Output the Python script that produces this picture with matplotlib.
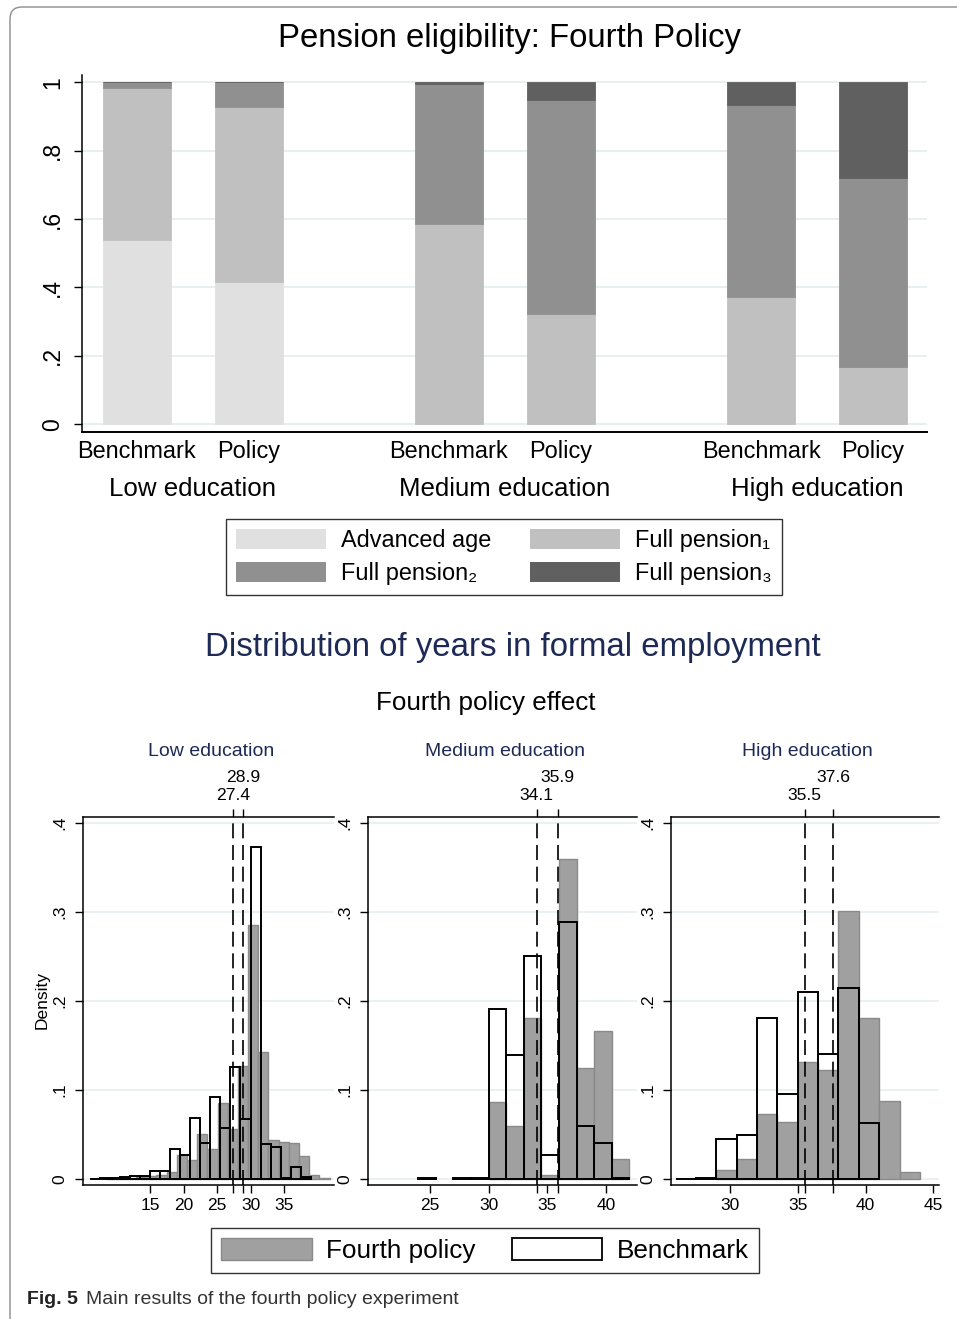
import numpy as np
import matplotlib
matplotlib.use("Agg")
import matplotlib.pyplot as plt
from matplotlib.patches import Patch, FancyBboxPatch
from matplotlib.transforms import blended_transform_factory

plt.rcParams['font.family'] = ['Liberation Sans', 'DejaVu Sans']

W, H = 957, 1319

# ---------------- pension eligibility shares ----------------
groups = ["Low education", "Medium education", "High education"]
scenarios = ["Benchmark", "Policy"]
status_labels = ["Advanced age", "Full pension₁", "Full pension₂", "Full pension₃"]
status_colors = ["#e0e0e0", "#c0c0c0", "#909090", "#606060"]
# order: low bench, low policy, medium bench, medium policy, high bench, high policy
advanced_age = [0.538, 0.416, 0.0, 0.0, 0.0, 0.0]
full_pension1 = [0.444, 0.510, 0.585, 0.323, 0.371, 0.167]
full_pension2 = [0.018, 0.074, 0.410, 0.625, 0.563, 0.553]
full_pension3 = [0.0, 0.0, 0.005, 0.052, 0.066, 0.280]

# ---------------- years in formal employment ----------------
panel_titles = ["Low education", "Medium education", "High education"]

low_bench_edges = [6, 7.5, 9, 10.5, 12, 13.5, 15, 16.5, 18, 19.5, 21, 22.5, 24,
                   25.5, 27, 28.5, 30, 31.5, 33, 34.5, 36, 37.5, 39]
low_bench_density = [0.0005, 0.0008, 0.001, 0.002, 0.003, 0.003, 0.009, 0.009,
                     0.034, 0.027, 0.069, 0.040, 0.092, 0.057, 0.126, 0.068,
                     0.373, 0.039, 0.036, 0.001, 0.014, 0.002]
low_policy_edges = [8.36, 9.88, 11.4, 12.92, 14.44, 15.96, 17.48, 19.0, 20.52,
                    22.04, 23.56, 25.08, 26.6, 28.12, 29.64, 31.16, 32.68, 34.2,
                    35.72, 37.24, 38.76, 40.28, 41.8]
low_policy_density = [0.0005, 0.001, 0.001, 0.002, 0.003, 0.005, 0.008, 0.027,
                      0.021, 0.051, 0.034, 0.086, 0.056, 0.127, 0.286, 0.143,
                      0.044, 0.042, 0.041, 0.026, 0.004, 0.0015]

med_edges = [24, 25.5, 27, 28.5, 30, 31.5, 33, 34.5, 36, 37.5, 39, 40.5, 42]
med_bench_density = [0.001, 0.0, 0.001, 0.001, 0.191, 0.139, 0.251, 0.027,
                     0.289, 0.060, 0.041, 0.001]
med_policy_density = [0.0, 0.0, 0.0, 0.0, 0.087, 0.060, 0.181, 0.004, 0.360,
                      0.125, 0.166, 0.022]

high_edges = [26, 27.5, 29, 30.5, 32, 33.5, 35, 36.5, 38, 39.5, 41, 42.5, 44]
high_bench_density = [0.0005, 0.0008, 0.045, 0.049, 0.181, 0.096, 0.210, 0.141,
                      0.215, 0.063, 0.0, 0.0]
high_policy_density = [0.0, 0.0, 0.010, 0.022, 0.073, 0.064, 0.132, 0.123,
                       0.301, 0.181, 0.088, 0.008]

bench_means = [27.4, 34.1, 35.5]
policy_means = [28.9, 35.9, 37.6]

hist_xticks = [[15, 20, 25, 30, 35], [25, 30, 35, 40], [30, 35, 40, 45]]
hist_xlims = [(5.0, 42.46), (19.71, 42.65), (25.63, 45.41)]
density_ticks = [0, 0.1, 0.2, 0.3, 0.4]
density_ticklabels = ["0", ".1", ".2", ".3", ".4"]
share_ticks = [0, 0.2, 0.4, 0.6, 0.8, 1.0]
share_ticklabels = ["0", ".2", ".4", ".6", ".8", "1"]

NAVY = "#1d2a55"
GRID = "#e6eef0"
POLICY_FILL = "#a0a0a0"
POLICY_EDGE = "#8a8a8a"


def rect(x0, y0, x1, y1):
    """Axes rectangle from pixel box (origin at top-left)."""
    return [x0 / W, 1 - y1 / H, (x1 - x0) / W, (y1 - y0) / H]


def ftxt(x, y, s, **kw):
    fig.text(x / W, 1 - y / H, s, ha=kw.pop("ha", "center"),
             va=kw.pop("va", "center"), **kw)


fig = plt.figure(figsize=(W / 100, H / 100), dpi=100)

# outer frame with rounded corner
frame = FancyBboxPatch((0.10, -0.3), 11.0, 13.12 + 0.3,
                       boxstyle="round,pad=0,rounding_size=0.12",
                       transform=fig.dpi_scale_trans, fill=False,
                       edgecolor="#8c8c8c", linewidth=1.0)
fig.patches.append(frame)

# ---------------- stacked bars ----------------
ax = fig.add_axes(rect(82, 75, 926.7, 432))
half = 0.179
bar_w = 0.218
xpos = []
for g in range(len(groups)):
    xpos += [g - half, g + half]
xpos = np.array(xpos)

bottom = np.zeros(len(xpos))
for vals, col, lab in zip([advanced_age, full_pension1, full_pension2, full_pension3],
                          status_colors, status_labels):
    vals = np.array(vals)
    ax.bar(xpos, vals, bar_w, bottom=bottom, color=col, edgecolor=col,
           linewidth=0.6, label=lab, zorder=3)
    bottom += vals

ax.set_xlim(-0.355, 2.352)
ax.set_ylim(-0.023, 1.021)
ax.set_yticks(share_ticks)
ax.set_yticklabels(share_ticklabels, fontsize=16.5, rotation=90, va="center")
ax.yaxis.grid(True, color=GRID, linewidth=1.3, zorder=0)
ax.set_axisbelow(True)
ax.tick_params(axis="y", length=6, width=1.0, pad=7)
ax.set_xticks(xpos)
ax.set_xticklabels(scenarios * len(groups), fontsize=16.9)
ax.tick_params(axis="x", length=0, pad=6)
for s in ["top", "right"]:
    ax.spines[s].set_visible(False)
ax.spines["left"].set_linewidth(1.1)
ax.spines["bottom"].set_linewidth(1.4)

tr = blended_transform_factory(ax.transData, fig.transFigure)
for g, name in enumerate(groups):
    ax.text(g, 1 - 489 / H, name, transform=tr, ha="center", va="center",
            fontsize=18.6)

ftxt(509, 39, "Pension eligibility: Fourth Policy", fontsize=23.7)

handles = [Patch(facecolor=c, edgecolor="none") for c in status_colors]
order = [0, 2, 1, 3]
leg = fig.legend([handles[i] for i in order], [status_labels[i] for i in order],
                 ncol=2, loc="center", bbox_to_anchor=(504 / W, 1 - 557 / H),
                 frameon=True, fancybox=False, edgecolor="black",
                 fontsize=16.9, handlelength=3.83, handleheight=0.95,
                 handletextpad=0.64, columnspacing=1.66, labelspacing=0.42,
                 borderpad=0.42)
leg.get_frame().set_linewidth(1.0)

# ---------------- histograms ----------------
ftxt(513, 647, "Distribution of years in formal employment", fontsize=23.8,
     color=NAVY)
ftxt(486, 703, "Fourth policy effect", fontsize=18.7)

panel_px = [(83, 334), (368, 637), (670.7, 939)]
title_x = [211, 505, 807]
bench_sets = [(low_bench_edges, low_bench_density),
              (med_edges, med_bench_density),
              (high_edges, high_bench_density)]
policy_sets = [(low_policy_edges, low_policy_density),
               (med_edges, med_policy_density),
               (high_edges, high_policy_density)]

for i in range(3):
    x0, x1 = panel_px[i]
    hx = fig.add_axes(rect(x0, 817, x1, 1185))

    pe, pd = np.array(policy_sets[i][0]), np.array(policy_sets[i][1])
    keep = pd > 0
    hx.bar(pe[:-1][keep], pd[keep], width=np.diff(pe)[keep], align="edge",
           facecolor=POLICY_FILL, edgecolor=POLICY_EDGE, linewidth=1.0, zorder=2)

    be, bd = np.array(bench_sets[i][0]), np.array(bench_sets[i][1])
    keep = bd > 0
    hx.bar(be[:-1][keep], bd[keep], width=np.diff(be)[keep], align="edge",
           fill=False, edgecolor="black", linewidth=1.4, zorder=3)

    for m in (bench_means[i], policy_means[i]):
        hx.axvline(m, color="black", linewidth=1.2, linestyle=(0, (9, 4)),
                   zorder=4)

    hx.set_xlim(*hist_xlims[i])
    hx.set_ylim(-0.0067, 0.407)
    hx.set_yticks(density_ticks)
    hx.set_yticklabels(density_ticklabels, fontsize=12.5, rotation=90,
                       va="center")
    hx.yaxis.grid(True, color=GRID, linewidth=1.1, zorder=0)
    hx.set_axisbelow(True)
    hx.set_xticks(hist_xticks[i])
    hx.set_xticklabels([str(t) for t in hist_xticks[i]], fontsize=12.5)
    hx.set_xticks([bench_means[i], policy_means[i]], minor=True)
    hx.tick_params(axis="x", which="major", length=6, width=1.0, pad=3)
    hx.tick_params(axis="x", which="minor", length=6, width=1.0, top=True,
                   bottom=True)
    hx.tick_params(axis="y", length=6, width=1.0, pad=5)
    hx.spines["right"].set_visible(False)
    for s in ["left", "bottom", "top"]:
        hx.spines[s].set_linewidth(1.1)

    trh = blended_transform_factory(hx.transData, fig.transFigure)
    hx.text(bench_means[i], 1 - 795 / H, f"{bench_means[i]:.1f}",
            transform=trh, ha="center", va="center", fontsize=12.6)
    hx.text(policy_means[i], 1 - 777 / H, f"{policy_means[i]:.1f}",
            transform=trh, ha="center", va="center", fontsize=12.6)

    ftxt(title_x[i], 751, panel_titles[i], fontsize=14, color=NAVY)

ftxt(42, 1000, "Density", fontsize=12.5, rotation=90)

leg2 = fig.legend([Patch(facecolor=POLICY_FILL, edgecolor=POLICY_EDGE),
                   Patch(facecolor="white", edgecolor="black", linewidth=1.3)],
                  ["Fourth policy", "Benchmark"], ncol=2, loc="center",
                  bbox_to_anchor=(485 / W, 1 - 1250.5 / H), frameon=True,
                  fancybox=False, edgecolor="black", fontsize=18.8,
                  handlelength=3.46, handleheight=0.9, handletextpad=0.55,
                  columnspacing=1.4, borderpad=0.4)
leg2.get_frame().set_linewidth(1.0)

# caption
ftxt(27, 1300, "Fig. 5", ha="left", fontsize=14, fontweight="bold",
     color="#222222")
ftxt(86, 1300, "Main results of the fourth policy experiment", ha="left",
     fontsize=14, color="#333333")

fig.savefig("out.png", dpi=100)
